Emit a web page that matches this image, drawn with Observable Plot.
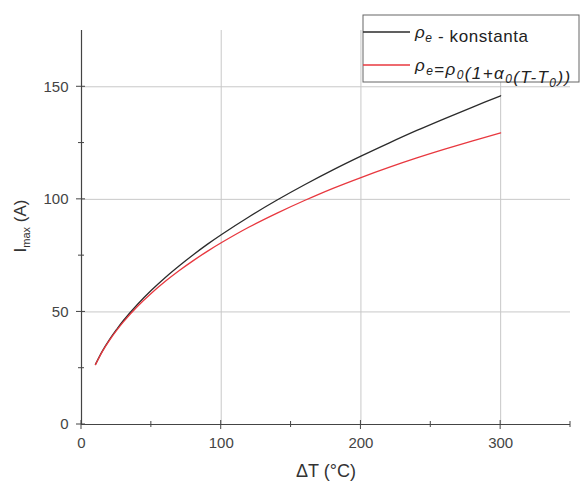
<!DOCTYPE html>
<html>
<head>
<meta charset="utf-8">
<script src="https://cdn.jsdelivr.net/npm/d3@7"></script>
<script src="https://cdn.jsdelivr.net/npm/@observablehq/plot@0.6"></script>
<style>
  body { margin: 0; background: #fff; }
  #chart { position: relative; width: 582px; height: 484px; }
  #chart svg { font-family: "Liberation Sans", Arial, sans-serif; }
</style>
</head>
<body>
<div id="chart"></div>
<script>
// Data
const deltaT = [10, 15, 20, 25, 30, 40, 50, 60, 70, 80, 90, 100, 120, 140, 160, 180, 200, 220, 240, 260, 280, 300];
const rhoConst = [26.7, 32.7, 37.7, 42.1, 46.2, 53.3, 59.6, 65.3, 70.5, 75.4, 80.0, 84.3, 92.3, 99.7, 106.6, 113.1, 119.2, 125.0, 130.6, 135.9, 141.0, 146.0];
const rhoTemp  = [26.6, 32.5, 37.4, 41.7, 45.6, 52.4, 58.3, 63.6, 68.4, 72.8, 76.9, 80.7, 87.7, 93.9, 99.6, 104.9, 109.7, 114.2, 118.4, 122.3, 126.0, 129.5];
const seriesNames = ["ρe - konstanta", "ρe=ρ0(1+α0(T-T0))"];
const seriesColors = ["#2b2b2b", "#e8383f"];
const xMajor = [0, 100, 200, 300];
const xMinor = [50, 150, 250, 350];
const yMajor = [0, 50, 100, 150];
const yMinor = [25, 75, 125];

const rows = [];
deltaT.forEach((t, i) => {
  rows.push({t, v: rhoConst[i], s: seriesNames[0]});
  rows.push({t, v: rhoTemp[i], s: seriesNames[1]});
});

const axisColor = "#444";
const gridColor = "#c8c8c8";

const plot = Plot.plot({
  width: 582,
  height: 484,
  marginLeft: 81,
  marginRight: 12,
  marginTop: 30,
  marginBottom: 60,
  x: {domain: [0, 350], label: null},
  y: {domain: [0, 175], label: null},
  color: {domain: seriesNames, range: seriesColors},
  style: {fontFamily: "Liberation Sans, Arial, sans-serif", fontSize: "15px", color: "#444"},
  marks: [
    Plot.ruleX(xMajor.filter(d => d > 0), {stroke: gridColor, strokeWidth: 1}),
    Plot.ruleY(yMajor.filter(d => d > 0), {stroke: gridColor, strokeWidth: 1}),
    Plot.line(rows, {x: "t", y: "v", z: "s", stroke: "s", strokeWidth: 1.3, curve: "catmull-rom"}),
    Plot.ruleY([0], {stroke: axisColor, strokeWidth: 1.2}),
    Plot.ruleX([0], {stroke: axisColor, strokeWidth: 1.2}),
    // labels
    Plot.axisX({ticks: xMajor, tickSize: 0, tickPadding: 13, fontSize: 15, fill: "#444", label: null}),
    Plot.axisY({ticks: yMajor, tickSize: 0, tickPadding: 13, fontSize: 15, fill: "#444", label: null}),
    Plot.axisX({ticks: [], tickSize: 0, label: "ΔT (°C)", labelAnchor: "center", labelOffset: 52, fontSize: 18, fill: "#333", labelArrow: "none"})
  ]
});

document.getElementById("chart").appendChild(plot);

const svg = d3.select(plot);
const sx = plot.scale("x"), sy = plot.scale("y");
const x0 = sx.apply(0), y0 = sy.apply(0);
// crossing tick marks drawn through the chart's own scales
const tg = svg.append("g").attr("stroke", axisColor).attr("stroke-width", 1);
xMajor.forEach(v => tg.append("line").attr("x1", sx.apply(v)).attr("x2", sx.apply(v)).attr("y1", y0 - 4).attr("y2", y0 + 5));
xMinor.forEach(v => tg.append("line").attr("x1", sx.apply(v)).attr("x2", sx.apply(v)).attr("y1", y0 - 3).attr("y2", y0 + 3));
yMajor.forEach(v => tg.append("line").attr("y1", sy.apply(v)).attr("y2", sy.apply(v)).attr("x1", x0 - 5).attr("x2", x0 + 4));
yMinor.forEach(v => tg.append("line").attr("y1", sy.apply(v)).attr("y2", sy.apply(v)).attr("x1", x0 - 3).attr("x2", x0 + 3));

// y-axis title with subscript
const yl = svg.append("text")
  .attr("transform", "translate(26,226) rotate(-90)")
  .attr("text-anchor", "middle")
  .attr("fill", "#333")
  .attr("font-size", 17);
yl.append("tspan").text("I");
yl.append("tspan").attr("font-size", 11).attr("dy", 4).text("max");
yl.append("tspan").attr("dy", -4).text(" (A)");

// legend
const lg = svg.append("g").attr("transform", "translate(363,15)").attr("text-anchor", "start");
lg.append("rect").attr("width", 216).attr("height", 67)
  .attr("fill", "#fff").attr("stroke", "#666").attr("stroke-width", 1);
function greek(t, base, sub) {
  t.append("tspan").attr("font-style", "italic").text(base);
  t.append("tspan").attr("font-size", 12).attr("dy", 4).attr("font-style", "italic").text(sub);
  t.append("tspan").attr("dy", -4);
}
// row 1
lg.append("line").attr("x1", 0).attr("x2", 47).attr("y1", 17).attr("y2", 17)
  .attr("stroke", seriesColors[0]).attr("stroke-width", 1.3);
const t1 = lg.append("text").attr("x", 52).attr("y", 23).attr("font-size", 17).attr("letter-spacing", 0.6).attr("fill", "#222");
greek(t1, "ρ", "e");
t1.append("tspan").text(" - konstanta");
// row 2
lg.append("line").attr("x1", 0).attr("x2", 47).attr("y1", 50).attr("y2", 50)
  .attr("stroke", seriesColors[1]).attr("stroke-width", 1.3);
const t2 = lg.append("text").attr("x", 52).attr("y", 56).attr("font-size", 17).attr("letter-spacing", 1.4).attr("fill", "#222").attr("font-style", "italic");
greek(t2, "ρ", "e");
t2.append("tspan").attr("font-style", "normal").text("=");
greek(t2, "ρ", "0");
t2.append("tspan").text("(1+");
greek(t2, "α", "0");
t2.append("tspan").text("(T-T");
t2.append("tspan").attr("font-size", 12).attr("dy", 4).text("0");
t2.append("tspan").attr("dy", -4).text("))");
</script>
</body>
</html>
